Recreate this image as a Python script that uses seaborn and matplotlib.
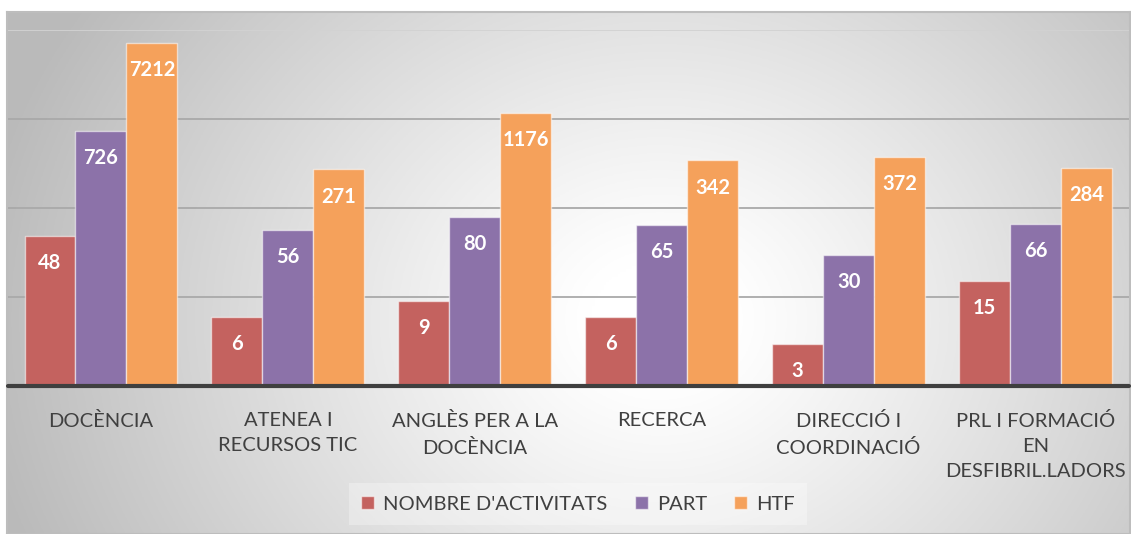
import numpy as np
import pandas as pd
import matplotlib
matplotlib.use("Agg")
import matplotlib.pyplot as plt
import seaborn as sns

categories = ["DOCÈNCIA", "ATENEA I\nRECURSOS TIC", "ANGLÈS PER A LA\nDOCÈNCIA",
              "RECERCA", "DIRECCIÓ I\nCOORDINACIÓ", "PRL I FORMACIÓ\nEN\nDESFIBRIL.LADORS"]
series = ["NOMBRE D'ACTIVITATS", "PART", "HTF"]
activitats = [48, 6, 9, 6, 3, 15]
part = [726, 56, 80, 65, 30, 66]
htf = [7212, 271, 1176, 342, 372, 284]
colors = ["#C4625F", "#8C72A9", "#F5A15B"]

df = pd.DataFrame({
    "cat": categories * 3,
    "serie": [series[0]] * 6 + [series[1]] * 6 + [series[2]] * 6,
    "val": activitats + part + htf,
})

sns.set_theme(style="white")
plt.rcParams["font.family"] = ["Lato", "DejaVu Sans"]

W, H = 1131, 534
fig = plt.figure(figsize=(W / 100, H / 100), dpi=100)
fig.patch.set_facecolor("white")

# background radial gradient panel
bx0, by0, bx1, by1 = 7, 12, 1130, 534
bg = fig.add_axes([bx0 / W, 1 - by1 / H, (bx1 - bx0) / W, (by1 - by0) / H])
xs = np.linspace(bx0, bx1, 400)
ys = np.linspace(by0, by1, 200)
XX, YY = np.meshgrid(xs, ys)
r = np.sqrt(((XX - 660) / 1.0) ** 2 + ((YY - 320) / 0.85) ** 2)
c = 1 - 0.27 * np.clip((r - 70) / 620, 0, 1) ** 1.1
img = np.dstack([c, c, c])
bg.imshow(img, extent=[0, 1, 0, 1], aspect="auto", origin="upper")
bg.set_xticks([]); bg.set_yticks([])
for s in bg.spines.values():
    s.set_color("#bdbdbd"); s.set_linewidth(1.5)
bg.set_zorder(0)

ax = fig.add_axes([7.5 / W, 1 - 386 / H, (1129 - 7.5) / W, (386 - 30) / H])
ax.set_facecolor("none")
ax.set_zorder(1)

sns.barplot(data=df, x="cat", y="val", hue="serie", palette=colors, width=0.818,
            ax=ax, edgecolor=(1, 1, 1, 0.55), linewidth=1.0,
            saturation=1, legend=True, errorbar=None)
# rebase bars at 1 for the log axis
for cont in ax.containers:
    for p in cont.patches:
        top = p.get_y() + p.get_height()
        p.set_y(1)
        p.set_height(top - 1)
ax.set_yscale("log")
ax.set_ylim(1, 10000)
ax.set_xlim(-0.5, len(categories) - 0.5)

for g in [10, 100, 1000]:
    ax.axhline(g, color="#a9a9a9", lw=1.3, zorder=0.5)
ax.axhline(10000, color="#d2d2d2", lw=1.3, zorder=0.5)
ax.axhline(1, color="#3f3f3f", lw=3, zorder=3, clip_on=False)

for cont in ax.containers:
    for p in cont.patches:
        v = p.get_height() + p.get_y()
        ax.annotate(f"{v:.0f}", (p.get_x() + p.get_width() / 2, v),
                    xytext=(0, -19.5), textcoords="offset points", ha="center", va="center",
                    color="white", fontsize=14.5, fontweight="bold", zorder=4)

ax.set_yticks([])
ax.yaxis.set_minor_locator(matplotlib.ticker.NullLocator())
ax.set_xlabel(""); ax.set_ylabel("")
ax.tick_params(axis="x", length=0, pad=19, labelsize=14.5, labelcolor="#404040")
for lab in ax.get_xticklabels():
    lab.set_linespacing(1.55)
for s in ax.spines.values():
    s.set_visible(False)

handles, labels = ax.get_legend_handles_labels()
ax.get_legend().remove()
leg = fig.legend(handles, labels, loc="center", bbox_to_anchor=(578 / W, 1 - 504 / H), ncol=3,
                 frameon=True, fontsize=14.5, handlelength=0.65, handleheight=0.65,
                 handletextpad=0.45, columnspacing=1.35, labelcolor="#404040",
                 borderpad=0.6, fancybox=False, framealpha=0.3)
leg.get_frame().set_facecolor("white")
leg.get_frame().set_edgecolor("none")

fig.savefig("out.png", dpi=100)
